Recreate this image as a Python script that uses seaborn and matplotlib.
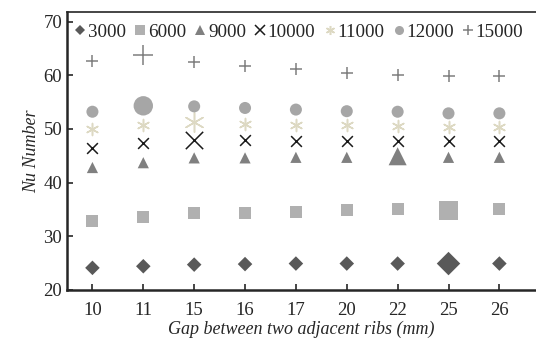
import pandas as pd
import seaborn as sns
import matplotlib.pyplot as plt

# gaps between ribs (categorical x) and Nu numbers per Reynolds number
gaps = ["10", "11", "15", "16", "17", "20", "22", "25", "26"]
re_labels = ["3000", "6000", "9000", "10000", "11000", "12000", "15000"]

nu_3000 = [24.1, 24.4, 24.7, 24.8, 24.9, 24.9, 24.9, 24.9, 24.9]
nu_6000 = [32.9, 33.5, 34.3, 34.4, 34.6, 34.8, 35.0, 34.8, 35.0]
nu_9000 = [42.8, 43.7, 44.6, 44.6, 44.7, 44.7, 44.9, 44.7, 44.7]
nu_10000 = [46.4, 47.4, 47.9, 47.9, 47.8, 47.8, 47.8, 47.8, 47.8]
nu_11000 = [49.9, 50.8, 51.3, 50.9, 50.8, 50.7, 50.6, 50.4, 50.4]
nu_12000 = [53.2, 54.3, 54.2, 53.9, 53.6, 53.3, 53.2, 52.9, 52.9]
nu_15000 = [62.6, 63.7, 62.5, 61.7, 61.2, 60.5, 60.1, 59.8, 59.8]

# gap of the optimum (enlarged) point for each series
best_gap = ["25", "25", "22", "15", "15", "11", "11"]

series = [nu_3000, nu_6000, nu_9000, nu_10000, nu_11000, nu_12000, nu_15000]
markers = ["D", "s", "^", "x", (6, 2, 0), "o", "+"]
colors = ["#595959", "#b0b0b0", "#808080", "#1a1a1a", "#ddd9c3", "#a6a6a6", "#7f7f7f"]
sizes = [55, 75, 65, 60, 75, 75, 80]

sns.set_style("ticks")
plt.rcParams["font.family"] = ["Liberation Serif", "DejaVu Serif"]

fig = plt.figure(figsize=(5.36, 3.41), dpi=100)
ax = fig.add_axes([0.125, 0.15, 0.875, 0.815])

pos = list(range(len(gaps)))
handles = []
for lab, vals, m, c, s, bg in zip(re_labels, series, markers, colors, sizes, best_gap):
    df = pd.DataFrame({"gap": gaps, "pos": pos, "nu": vals})
    line_marker = m in ("x", "+") or isinstance(m, tuple)
    kw = dict(marker=m, color=c, ax=ax, legend=False)
    if line_marker:
        kw["linewidth"] = 1.1
    else:
        kw["edgecolor"] = "none"
    sns.scatterplot(data=df[df["gap"] != bg], x="pos", y="nu", s=s, **kw)
    sns.scatterplot(data=df[df["gap"] == bg], x="pos", y="nu", s=s * 2.6, **kw)
    handles.append(plt.Line2D([], [], linestyle="none", marker=m, color=c,
                              markersize=6.5 if m != "D" else 5,
                              markeredgewidth=1.1 if line_marker else 0, label=lab))

ax.set_xlim(-0.5, 8.72)
ax.set_ylim(20, 71.8)
ax.set_yticks([20, 30, 40, 50, 60, 70])
ax.tick_params(axis="both", direction="in", labelsize=13.5, length=4, width=1.2)
ax.tick_params(axis="x", pad=9)
ax.set_xticks(pos)
ax.set_xticklabels(gaps)

ax.set_xlabel("Gap between two adjacent ribs (mm)", fontsize=13, style="italic", labelpad=1)
ax.set_ylabel("Nu Number", fontsize=13, style="italic", labelpad=2)

for side in ["left", "bottom"]:
    ax.spines[side].set_linewidth(1.8)
ax.spines["top"].set_linewidth(1.2)
ax.spines["right"].set_visible(False)

ax.legend(handles=handles, loc="upper left", bbox_to_anchor=(-0.01, 1.0), ncol=7,
          frameon=False, fontsize=13.7, handlelength=0.7, handletextpad=0.05,
          columnspacing=0.4, borderaxespad=0.2)

plt.savefig("out.png", dpi=100)
